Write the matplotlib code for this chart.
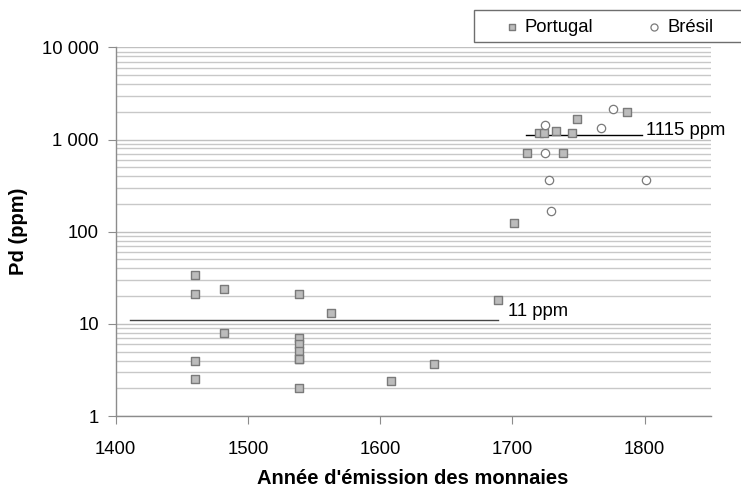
import matplotlib
matplotlib.use("Agg")
import matplotlib.pyplot as plt
from matplotlib.patches import Rectangle
from matplotlib.ticker import LogLocator, FixedLocator, NullFormatter

plt.rcParams['font.family'] = ['Liberation Sans', 'DejaVu Sans']

# Portugal (squares)
portugal_year = [1460, 1460, 1460, 1460, 1482, 1482, 1539, 1539, 1539, 1539, 1539, 1539, 1539,
                 1563, 1608, 1641, 1689,
                 1701, 1711, 1720, 1724, 1733, 1738, 1745, 1749, 1787]
portugal_pd = [34, 21, 4.0, 2.5, 24, 8.0, 21, 7.1, 6.0, 5.1, 4.2, 2.0,
               4.2, 13, 2.4, 3.7, 18,
               125, 715, 1180, 1180, 1240, 715, 1180, 1670, 1980]
# Brazil (circles)
bresil_year = [1725, 1725, 1728, 1729, 1767, 1776, 1801]
bresil_pd = [1430, 715, 362, 168, 1320, 2160, 362]

# mean lines
mean_labels = ["11 ppm", "1115 ppm"]
mean_values = [11, 1115]
mean_x0 = [1411, 1710]
mean_x1 = [1689, 1798]

xticks = [1400, 1500, 1600, 1700, 1800]
yticks = [1, 10, 100, 1000, 10000]
ytick_labels = ["1", "10", "100", "1 000", "10 000"]

fig = plt.figure(figsize=(7.41, 4.88), dpi=100)
ax = fig.add_axes([0.156, 0.1475, 0.803, 0.7555])

ax.set_yscale('log')
ax.set_xlim(1400, 1850)
ax.set_ylim(1, 10000)

ax.yaxis.set_major_locator(FixedLocator(yticks))
ax.set_yticklabels(ytick_labels)
ax.yaxis.set_minor_locator(LogLocator(base=10, subs=range(2, 10)))
ax.yaxis.set_minor_formatter(NullFormatter())
ax.set_xticks(xticks)
ax.set_xticklabels([str(v) for v in xticks])

ax.grid(True, which='major', axis='y', color='#c0c0c0', linewidth=1.0)
ax.grid(True, which='minor', axis='y', color='#c8c8c8', linewidth=1.0)
ax.set_axisbelow(True)

for s in ['top', 'right']:
    ax.spines[s].set_visible(False)
for s in ['left', 'bottom']:
    ax.spines[s].set_color('#8c8c8c')
    ax.spines[s].set_linewidth(1.0)

ax.tick_params(axis='both', which='major', direction='out', length=6, color='#8c8c8c',
               labelsize=13.3, labelcolor='black')
ax.tick_params(axis='y', which='minor', length=0)
ax.tick_params(axis='x', pad=12)
ax.tick_params(axis='y', pad=6)

offsets = [1.25, 1.13]
text_dx = [8, 3]
colors = ['#444444', 'black']
for lbl, v, x0, x1, off, dx, c in zip(mean_labels, mean_values, mean_x0, mean_x1,
                                     offsets, text_dx, colors):
    ax.plot([x0, x1], [v, v], color=c, linewidth=1.0, zorder=2)
    ax.text(x1 + dx, v * off, lbl, fontsize=13.3, va='center', ha='left', zorder=4)

ax.scatter(portugal_year, portugal_pd, marker='s', s=30, facecolor='#bcbcbc',
           edgecolor='#7a7a7a', linewidth=1.0, zorder=3, label='Portugal')
ax.scatter(bresil_year, bresil_pd, marker='o', s=36, facecolor='white',
           edgecolor='#7a7a7a', linewidth=0.9, zorder=3, label='Brésil')

ax.set_xlabel("Année d'émission des monnaies", fontsize=14.5, fontweight='bold')
ax.set_ylabel("Pd (ppm)", fontsize=14.5, fontweight='bold')
ax.yaxis.set_label_coords(-0.147, 0.5)
ax.xaxis.set_label_coords(0.5, -0.145)

# legend
fig.patches.append(Rectangle((474 / 741, 1 - 42 / 488), 0.4, 32 / 488, transform=fig.transFigure,
                             facecolor='white', edgecolor='#6e6e6e', linewidth=1.0))
leg = fig.legend(loc='center left', bbox_to_anchor=(486 / 741, 1 - 27 / 488), ncol=2,
                 frameon=False, fontsize=13.3, markerscale=0.85, handletextpad=0.2,
                 columnspacing=2.8, handlelength=1.0)

fig.savefig("out.png", dpi=100)
